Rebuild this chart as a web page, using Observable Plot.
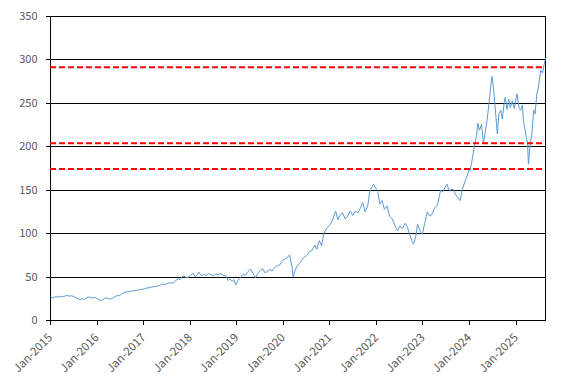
<!DOCTYPE html>
<html>
<head>
<meta charset="utf-8">
<script src="https://cdn.jsdelivr.net/npm/d3@7"></script>
<script src="https://cdn.jsdelivr.net/npm/@observablehq/plot@0.6"></script>
<style>
  html, body { margin: 0; padding: 0; background: #ffffff; }
  #chart { width: 573px; height: 384px; }
</style>
</head>
<body>
<div id="chart"></div>
<script>
// ---- data ----
const dates = [
  "2015-01-02","2015-01-20","2015-02-10","2015-03-05","2015-03-25","2015-04-15","2015-05-10","2015-05-25","2015-06-15","2015-07-10","2015-07-28","2015-08-20","2015-09-05","2015-09-25","2015-10-15","2015-11-05","2015-11-25","2015-12-15",
  "2016-01-05","2016-01-25","2016-02-10","2016-03-01","2016-03-20","2016-04-10","2016-04-30","2016-05-20","2016-06-10","2016-06-28","2016-07-15","2016-08-05","2016-08-25","2016-09-15","2016-10-05","2016-10-25","2016-11-15","2016-12-05","2016-12-25",
  "2017-01-15","2017-02-05","2017-03-01","2017-03-25","2017-04-15","2017-05-05","2017-06-01","2017-06-20","2017-07-10","2017-08-01","2017-08-20","2017-09-10","2017-09-30","2017-10-15","2017-11-05","2017-11-25","2017-12-15",
  "2018-01-05","2018-01-25","2018-02-08","2018-02-25","2018-03-12","2018-03-28","2018-04-15","2018-05-05","2018-05-25","2018-06-10","2018-06-30","2018-07-20","2018-08-10","2018-08-30","2018-09-20","2018-10-10","2018-10-25","2018-11-10","2018-11-25","2018-12-10","2018-12-24",
  "2019-01-10","2019-01-30","2019-02-20","2019-03-10","2019-03-28","2019-04-20","2019-05-10","2019-05-28","2019-06-15","2019-07-05","2019-07-25","2019-08-10","2019-08-28","2019-09-15","2019-10-05","2019-10-25","2019-11-15","2019-12-05","2019-12-25",
  "2020-01-15","2020-02-05","2020-02-20","2020-03-10","2020-03-20","2020-04-01","2020-04-20","2020-05-10","2020-05-30","2020-06-15","2020-07-05","2020-07-25","2020-08-15","2020-09-05","2020-09-20","2020-10-10","2020-10-28","2020-11-15","2020-12-01","2020-12-20",
  "2021-01-10","2021-01-28","2021-02-15","2021-03-05","2021-03-20","2021-04-10","2021-05-01","2021-05-20","2021-06-10","2021-06-30","2021-07-20","2021-08-10","2021-08-30","2021-09-15","2021-10-05","2021-10-25","2021-11-10","2021-11-25","2021-12-10","2021-12-28",
  "2022-01-10","2022-01-28","2022-02-15","2022-03-05","2022-03-25","2022-04-15","2022-05-05","2022-05-25","2022-06-15","2022-07-05","2022-07-25","2022-08-15","2022-09-01","2022-09-15","2022-10-05","2022-10-20","2022-11-05","2022-11-20","2022-12-10","2022-12-28",
  "2023-01-15","2023-02-05","2023-02-25","2023-03-15","2023-04-05","2023-04-25","2023-05-20","2023-06-05","2023-07-08","2023-07-25","2023-08-28","2023-09-15","2023-10-20","2023-11-05","2023-11-20","2023-12-10","2023-12-28",
  "2024-01-05","2024-01-20","2024-02-08","2024-02-25","2024-03-08","2024-03-20","2024-04-05","2024-04-20","2024-05-05","2024-05-18","2024-06-01","2024-06-13","2024-06-25","2024-07-05","2024-07-15","2024-07-24","2024-08-07","2024-08-20","2024-09-03","2024-09-15","2024-09-30","2024-10-08","2024-10-22","2024-11-05","2024-11-17","2024-12-02","2024-12-18",
  "2025-01-08","2025-01-25","2025-02-06","2025-02-20","2025-02-28","2025-03-10","2025-03-22","2025-04-01","2025-04-08","2025-04-15","2025-04-23","2025-05-05","2025-05-19","2025-05-30","2025-06-13","2025-06-25","2025-07-13","2025-07-28","2025-08-10","2025-08-19"
];
const prices = [
  27,26,27.5,27,28,27.5,29,28,28.5,27,26,24,25,24.5,26.5,27,26,26.5,
  25,23,23.5,25.5,26,24.5,25.5,27.5,29,28.5,31,32.5,33,33.5,34,34.5,35,35.5,36,
  37,37.5,38.5,39,39.5,40.5,42,41.5,43,43.5,43,46,48,47,51.5,50,49.5,
  52,54.5,50.5,52.5,55.5,51.5,53,52,54,53,51.5,53.5,53,54,52,51,46,48,45,47,41,
  46,50,53,52,56,59,54,49.5,54,57.5,59.5,55,56,59,57,61,63,64,69,
  71,73,75.5,62,50,57,63,66,70,73,75,79,81,87,82,92,86,100,105,108,
  112,118,126,116,121,124,117,120,126,121,126,124,130,136,125,132,148,153,157,152,
  150,134,138,128,132,120,117,110,103,109,106,112,108,101,92,88,96,111,103,99,
  112,125,120,123,130,133,150,148,157,150,151,145,138,150,157,165,173,
  172,183,200,212,227,219,226,204,218,230,248,265,281,272,255,240,215,238,242,232,251,257,243,255,245,253,244,
  261,245,242,248,230,222,211,205,180,192,204,215,242,238,261,268,288,285,295,302
];
const yTicks = [0, 50, 100, 150, 200, 250, 300, 350];
const levels = [291.5, 204, 174.5];
const xStart = "2015-01-01";
const xEnd = "2025-08-20";

// ---- build table ----
const series = dates.map((d, i) => ({date: new Date(d + "T00:00:00Z"), price: prices[i]}));
const yearTicks = d3.utcYear.range(new Date("2015-01-01T00:00:00Z"), new Date("2025-12-31T00:00:00Z"));

const font = "'Noto Sans CJK JP', 'Noto Sans', sans-serif";

const chart = Plot.plot({
  width: 573,
  height: 384,
  marginLeft: 50,
  marginRight: 28,
  marginTop: 16,
  marginBottom: 64,
  style: {fontFamily: font, fontSize: "11px", color: "#595959", background: "#ffffff", overflow: "visible"},
  x: {type: "utc", domain: [new Date(xStart + "T00:00:00Z"), new Date(xEnd + "T00:00:00Z")]},
  y: {domain: [0, 350]},
  marks: [
    Plot.gridY(yTicks, {stroke: "#000000", strokeOpacity: 1, strokeWidth: 1, shapeRendering: "crispEdges"}),
    Plot.frame({stroke: "#000000", strokeWidth: 1, shapeRendering: "crispEdges"}),
    Plot.axisY(yTicks, {tickSize: 4, tickPadding: 9, label: null, stroke: "#000000", fill: "#595959", shapeRendering: "crispEdges"}),
    Plot.axisX(yearTicks, {tickSize: 5, tickPadding: 10, tickRotate: -45, fontSize: 11.5, tickFormat: d3.utcFormat("%b-%Y"), label: null, stroke: "#000000", fill: "#595959", shapeRendering: "crispEdges"}),
    Plot.lineY(series, {x: "date", y: "price", stroke: "#5B9BD5", strokeWidth: 1}),
    Plot.ruleY(levels, {stroke: "#FF0000", strokeWidth: 2, strokeDasharray: "6,3"})
  ]
});
document.getElementById("chart").appendChild(chart);
</script>
</body>
</html>
